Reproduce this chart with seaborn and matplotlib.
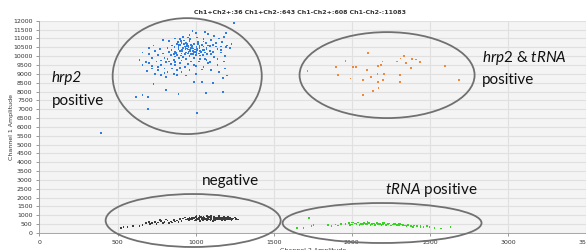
import numpy as np
import pandas as pd
import matplotlib
matplotlib.use("Agg")
import matplotlib.pyplot as plt
from matplotlib.patches import Ellipse
import seaborn as sns

# droplets (Channel 2 amplitude, Channel 1 amplitude)
hrp2_x = [900, 920, 940, 960, 980, 1000, 950, 970, 930, 910, 890, 1010, 1030, 1050, 870, 990, 1020, 960, 940, 900,
          880, 1060, 1040, 1000, 920, 970, 950, 985, 915, 935, 955, 1005, 1025, 865, 845, 1070, 1080, 1015, 960, 905,
          880, 850, 1045, 1090, 990, 940, 895, 860, 830, 820,
          870, 920, 960, 1010, 1050, 1100, 1120, 1150, 1080, 1000, 950, 900, 830, 790, 1180, 1194, 1060, 980, 1130, 1170,
          1200, 1220, 1160, 1110, 1140, 1100, 1120, 1160, 1190, 1230,
          640, 660, 700, 720, 750, 780, 800, 760, 720, 690, 740, 780, 820, 850, 870, 830, 800, 860, 900, 930,
          960, 990, 1020, 1050, 1080, 1000, 940, 880, 1100, 1140, 1150, 1190, 1200, 760, 700, 660, 740, 790, 810, 880,
          910, 970, 1030, 1070, 950, 860, 810, 770, 730, 700,
          660, 697, 730, 810, 890, 697, 1008, 1065, 1175, 1175, 1112, 1040, 990, 1245, 392, 620, 1195,
          875, 895, 915, 935, 955, 975, 995, 1015, 1035, 1055, 1075, 885, 905, 925, 945, 965, 985, 1005, 1025, 1045,
          1065, 870, 890, 910, 930, 950, 970, 990, 1010, 1030, 1050, 1070, 1090, 925, 945, 965, 985, 1005, 945, 965,
          780, 820, 840, 760, 900, 1110, 1130, 1160, 1090, 1060, 720, 680, 800, 840, 1000, 1040, 1140, 1180, 870, 910]
hrp2_y = [10300, 10450, 10200, 10350, 10500, 10250, 10600, 10100, 10550, 10150, 10400, 10400, 10300, 10550, 10250,
          10700, 10150, 10000, 10750, 10650, 10050, 10200, 10650, 10050, 9950, 10450, 10150, 10300, 10350, 10400,
          10500, 10550, 10450, 10500, 10350, 10400, 10600, 10800, 10850, 10850, 10700, 10600, 10050, 10300, 9900,
          9850, 9900, 10100, 10250, 10450,
          11000, 11100, 11200, 11050, 10950, 10900, 11150, 11000, 11250, 11300, 11050, 10950, 10850, 10900, 11100,
          11300, 11350, 11400, 10750, 10800, 10600, 10450, 10550, 10650, 10400, 10100, 9950, 10200, 10000, 10700,
          9800, 9500, 9600, 9900, 9700, 9500, 9300, 9200, 9300, 9150, 9000, 8950, 9100, 9300, 9500, 9700, 9900, 9800,
          9600, 9400, 9200, 9500, 9700, 9400, 9600, 9000, 8900, 8950, 9200, 9500, 9100, 9300, 8900, 10050, 10100,
          10200, 10300, 10150, 9650, 9200, 9100, 9700, 9850, 9800, 9550, 9000, 8800, 10400, 10600, 10450,
          7800, 7680, 8420, 8080, 7850, 7000, 6780, 7910, 7970, 8760, 8475, 8530, 8530, 11870, 5670, 7700, 10500,
          10180, 10620, 10280, 10480, 10230, 10580, 10380, 10680, 10230, 10330, 10130, 10780, 10030, 10680, 10430,
          10280, 10130, 10480, 10580, 10330, 10730, 9980, 10530, 10730, 10130, 10380, 10630, 10230, 10330, 10030,
          10830, 10480, 10580, 10880, 10580, 10980, 10430, 10180, 10680, 10330,
          9750, 9850, 10050, 9400, 9350, 10250, 10550, 10350, 9650, 9850, 9450, 9650, 9050, 9550, 9450, 9250,
          9850, 9700, 9650, 9750]

both_x = [1717, 1960, 1900, 1914, 1992, 2010, 2027, 2103, 2097, 2071, 2124, 2169, 2186, 2196, 2164, 2205, 2169,
          2201, 2171, 2135, 2071, 2292, 2312, 2333, 2345, 2381, 2385, 2411, 2439, 2307, 2311, 2596, 2689]
both_y = [9150, 9720, 9380, 8930, 8740, 9400, 9400, 10190, 9210, 8640, 8830, 9450, 9490, 9700, 9000, 8970, 8550,
          8640, 8210, 8010, 7800, 9700, 9870, 10020, 9600, 9320, 9850, 9810, 9660, 8930, 8530, 9440, 8660]

neg_x = [900, 920, 940, 960, 980, 1000, 1020, 1040, 1060, 1080, 1100, 1120, 1140, 1160, 1180, 1200, 1220, 1240,
         1260, 1000, 1050, 1100, 1150, 1070, 1110, 1030, 960, 1190, 1230, 1130, 1090, 1010, 970, 930, 1180, 1210,
         1065, 1085, 1150, 1170, 1045, 1125, 1095, 990, 950, 1075, 1025, 1250, 1270, 880,
         860, 840, 820, 800, 780, 760, 740, 720, 700, 850, 870, 830, 790, 750, 710, 770, 810, 890, 910, 680,
         523, 538, 564, 640, 660, 600,
         950, 965, 980, 995, 1010, 1025, 1040, 1055, 1070, 1085, 1100, 1115, 1130, 1145, 1160, 1175, 1190, 1205,
         1220, 1235, 955, 975, 995, 1015, 1035, 1055, 1075, 1095, 1115, 1135, 1155, 1175, 1195, 1215, 1005, 1045,
         1085, 1125, 1165, 1205, 1060, 1080, 1100, 1120, 1140, 1020, 1040, 1160, 1180, 1200]
neg_y = [780, 820, 760, 850, 800, 740, 880, 800, 760, 840, 800, 900, 760, 830, 790, 860, 780, 820, 800, 900,
         920, 950, 940, 700, 680, 680, 700, 720, 740, 860, 880, 820, 780, 880, 900, 930, 820, 760, 810, 700, 860,
         790, 720, 860, 820, 980, 960, 880, 760, 700,
         720, 650, 700, 620, 680, 600, 640, 580, 620, 600, 650, 560, 560, 520, 520, 720, 760, 620, 680, 560,
         300, 355, 320, 410, 450, 380,
         810, 770, 830, 870, 780, 840, 760, 870, 800, 910, 770, 840, 810, 880, 760, 850, 820, 760, 840, 800,
         740, 860, 700, 770, 900, 830, 720, 860, 740, 830, 880, 760, 850, 800, 940, 740, 890, 700, 870, 900,
         800, 790, 830, 810, 790, 800, 830, 780, 820, 790]

trna_x = [1960, 1980, 2000, 2020, 2040, 2060, 2080, 2100, 2120, 2140, 2160, 2180, 2200, 2220, 2240, 2260, 2280,
          2300, 2320, 2340, 2360, 2380, 2400, 2420, 2440, 2460, 2480, 2000, 2050, 2100, 2150, 2200, 2250, 2300,
          2350, 2070, 2110, 2130, 2170, 2190, 2210, 2230, 2270, 2290, 2310, 2330, 2030, 2090, 1990, 2010,
          1647, 1690, 1728, 1742, 1755, 1850, 1870, 1895, 1910, 1930, 2498, 2530, 2570, 2632, 2440, 2390]
trna_y = [520, 560, 480, 540, 600, 500, 560, 520, 470, 540, 580, 500, 520, 460, 540, 480, 500, 440, 480, 420,
          460, 400, 420, 380, 400, 360, 380, 600, 450, 620, 440, 600, 420, 540, 380, 530, 580, 510, 530, 460, 560,
          500, 530, 470, 520, 450, 500, 490, 450, 590,
          280, 300, 830, 395, 450, 450, 380, 480, 420, 520, 320, 300, 260, 320, 330, 350]

y_ticks = list(range(0, 12001, 500))
x_ticks = [0, 500, 1000, 1500, 2000, 2500, 3000, 3500]
counts_title = "Ch1+Ch2+:36 Ch1+Ch2-:643 Ch1-Ch2+:608 Ch1-Ch2-:11083"

df = pd.concat([
    pd.DataFrame({"ch2": hrp2_x, "ch1": hrp2_y, "grp": "hrp2"}),
    pd.DataFrame({"ch2": both_x, "ch1": both_y, "grp": "both"}),
    pd.DataFrame({"ch2": neg_x, "ch1": neg_y, "grp": "neg"}),
    pd.DataFrame({"ch2": trna_x, "ch1": trna_y, "grp": "trna"}),
])
pal = {"hrp2": "#2f7de1", "both": "#f0883a", "neg": "#3c3c3c", "trna": "#35d421"}

sns.set_style("ticks")
plt.rcParams["font.family"] = ["DejaVu Sans"]
plt.rcParams["mathtext.fontset"] = "custom"
plt.rcParams["mathtext.it"] = "Lato:italic"
plt.rcParams["mathtext.rm"] = "Lato"

fig = plt.figure(figsize=(5.86, 2.5), dpi=100)
ax = fig.add_axes([0.0674, 0.068, 1 - 0.0674, 0.849])
ax.set_facecolor("#f4f4f4")

sns.scatterplot(data=df, x="ch2", y="ch1", hue="grp", palette=pal, marker="s", s=1.6,
                linewidth=0, legend=False, ax=ax, zorder=3)

ax.set_xlim(0, 3481)
ax.set_ylim(0, 12000)
ax.set_xticks(x_ticks)
ax.set_yticks(y_ticks)
ax.set_xticklabels([str(t) for t in x_ticks], fontsize=4.5, color="#333333")
ax.set_yticklabels([str(t) for t in y_ticks], fontsize=4.5, color="#333333")
ax.tick_params(length=2, width=0.6, color="#888888", pad=3)
ax.grid(True, color="#e0e0e0", linewidth=0.8, zorder=0)
ax.set_axisbelow(True)
for s in ["top", "right"]:
    ax.spines[s].set_visible(False)
ax.spines["left"].set_color("#999999")
ax.spines["bottom"].set_color("#999999")
ax.spines["left"].set_linewidth(0.6)
ax.spines["bottom"].set_linewidth(0.6)
ax.set_xlabel("Channel 2 Amplitude", fontsize=4.5, color="#333333", labelpad=2)
ax.set_ylabel("Channel 1 Amplitude", fontsize=4.5, color="#333333")
ax.yaxis.set_label_coords(-0.046, 0.5)

# gating ellipses
for cx, cy, w, h in [(946, 8870, 955, 6554), (2226, 8927, 1121, 4860),
                     (984, 706, 1121, 2995), (2194, 565, 1274, 2260)]:
    ax.add_patch(Ellipse((cx, cy), w, h, fill=False, edgecolor="#707070", lw=1.3,
                         clip_on=False, zorder=4))

tf = ["Lato", "DejaVu Sans"]
ax.text(80, 8750, "hrp2", fontsize=11, style="italic", family=tf, va="center", color="#111111")
ax.text(80, 7450, "positive", fontsize=11, family=tf, va="center", color="#111111")
ax.text(1220, 2938, "negative", fontsize=11, family=tf, ha="center", va="center", color="#111111")
ax.text(2506, 2430, "$\\it{tRNA}$ positive", fontsize=11, family=tf, ha="center", va="center", color="#111111")
ax.text(2831, 9890, "$\\it{hrp2}$ & $\\it{tRNA}$", fontsize=11, family=tf, va="center", color="#111111")
ax.text(2831, 8645, "positive", fontsize=11, family=tf, va="center", color="#111111")

fig.text(300 / 586, 1 - 13 / 250, counts_title, fontsize=4.5, ha="center", va="center",
         color="#333333", fontweight="bold")

fig.savefig("out.png", dpi=100)
